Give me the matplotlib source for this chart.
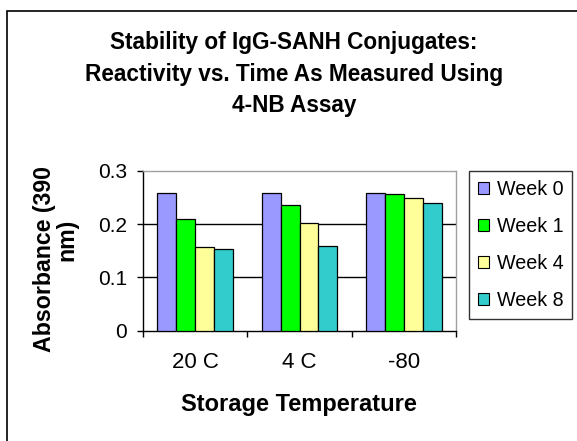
import matplotlib
matplotlib.use("Agg")
import matplotlib.pyplot as plt
from matplotlib.patches import Rectangle
import numpy as np

plt.rcParams['font.family'] = ['Liberation Sans', 'DejaVu Sans']

categories = ["20 C", "4 C", "-80"]
series_names = ["Week 0", "Week 1", "Week 4", "Week 8"]
week0 = [0.258, 0.258, 0.258]
week1 = [0.209, 0.236, 0.257]
week4 = [0.157, 0.202, 0.250]
week8 = [0.153, 0.160, 0.240]
series_values = [week0, week1, week4, week8]
colors = ["#9999FF", "#00FF00", "#FFFF99", "#33CCCC"]
yticks = [0, 0.1, 0.2, 0.3]
ytick_labels = ["0", "0.1", "0.2", "0.3"]

W, H = 577, 441
fig = plt.figure(figsize=(W / 100, H / 100), dpi=100)

# outer chart frame
fig.patches.append(Rectangle((7 / W, -0.1), 1.2, 1 - 11 / H + 0.1,
                             transform=fig.transFigure, fill=False,
                             edgecolor="black", linewidth=1.2))

ax = fig.add_axes([143 / W, 1 - 330.7 / H, (456 - 143) / W, (330.7 - 171) / H])

x = np.arange(len(categories)) + 0.5
bw = 0.182
for i, (name, vals, c) in enumerate(zip(series_names, series_values, colors)):
    ax.bar(x + (i - 1.5) * bw, vals, width=bw, color=c, edgecolor="black",
           linewidth=0.9, label=name, zorder=3)

ax.set_xlim(0, 3)
ax.set_ylim(0, 0.3)
ax.set_yticks(yticks)
ax.set_yticklabels(ytick_labels)
ax.set_xticks([0, 1, 2, 3])
ax.set_xticklabels([])
ax.set_xticks(x, minor=True)
ax.set_xticklabels(categories, minor=True)
ax.tick_params(axis="x", which="major", direction="out", length=4.5, width=1, color="black")
ax.tick_params(axis="x", which="minor", length=0, pad=15, labelsize=16)
ax.tick_params(axis="y", direction="out", length=4.5, width=1, pad=7, labelsize=15)

for yv in [0.1, 0.2]:
    ax.axhline(yv, color="black", linewidth=1, zorder=1)

for s in ["top", "right"]:
    ax.spines[s].set_color("#A0A0A0")
    ax.spines[s].set_linewidth(1)
for s in ["left", "bottom"]:
    ax.spines[s].set_color("black")
    ax.spines[s].set_linewidth(1)

leg = ax.legend(loc="upper left", bbox_to_anchor=(469 / W, 1 - 171 / H),
                bbox_transform=fig.transFigure, fontsize=14.2,
                handlelength=0.55, handleheight=0.55, handletextpad=0.4,
                labelspacing=0.92, borderpad=0.45, borderaxespad=0,
                fancybox=False, frameon=True)
leg.get_frame().set_edgecolor("black")
leg.get_frame().set_linewidth(1)
for p in leg.get_patches():
    p.set_linewidth(0.8)

fig.text(294 / W, 1 - 74 / H,
         "Stability of IgG-SANH Conjugates:\nReactivity vs. Time As Measured Using\n4-NB Assay",
         ha="center", va="center", fontsize=16.3, fontweight="bold", linespacing=1.48)

fig.text(299 / W, 1 - 404.5 / H, "Storage Temperature", ha="center", va="center",
         fontsize=17, fontweight="bold")

fig.text(45 / W, 1 - 259 / H, "Absorbance (390", rotation=90, ha="center", va="center",
         fontsize=16.7, fontweight="bold")
fig.text(67 / W, 1 - 240 / H, "nm)", rotation=90, ha="center", va="center",
         fontsize=16.7, fontweight="bold")

fig.savefig("out.png", dpi=100)
